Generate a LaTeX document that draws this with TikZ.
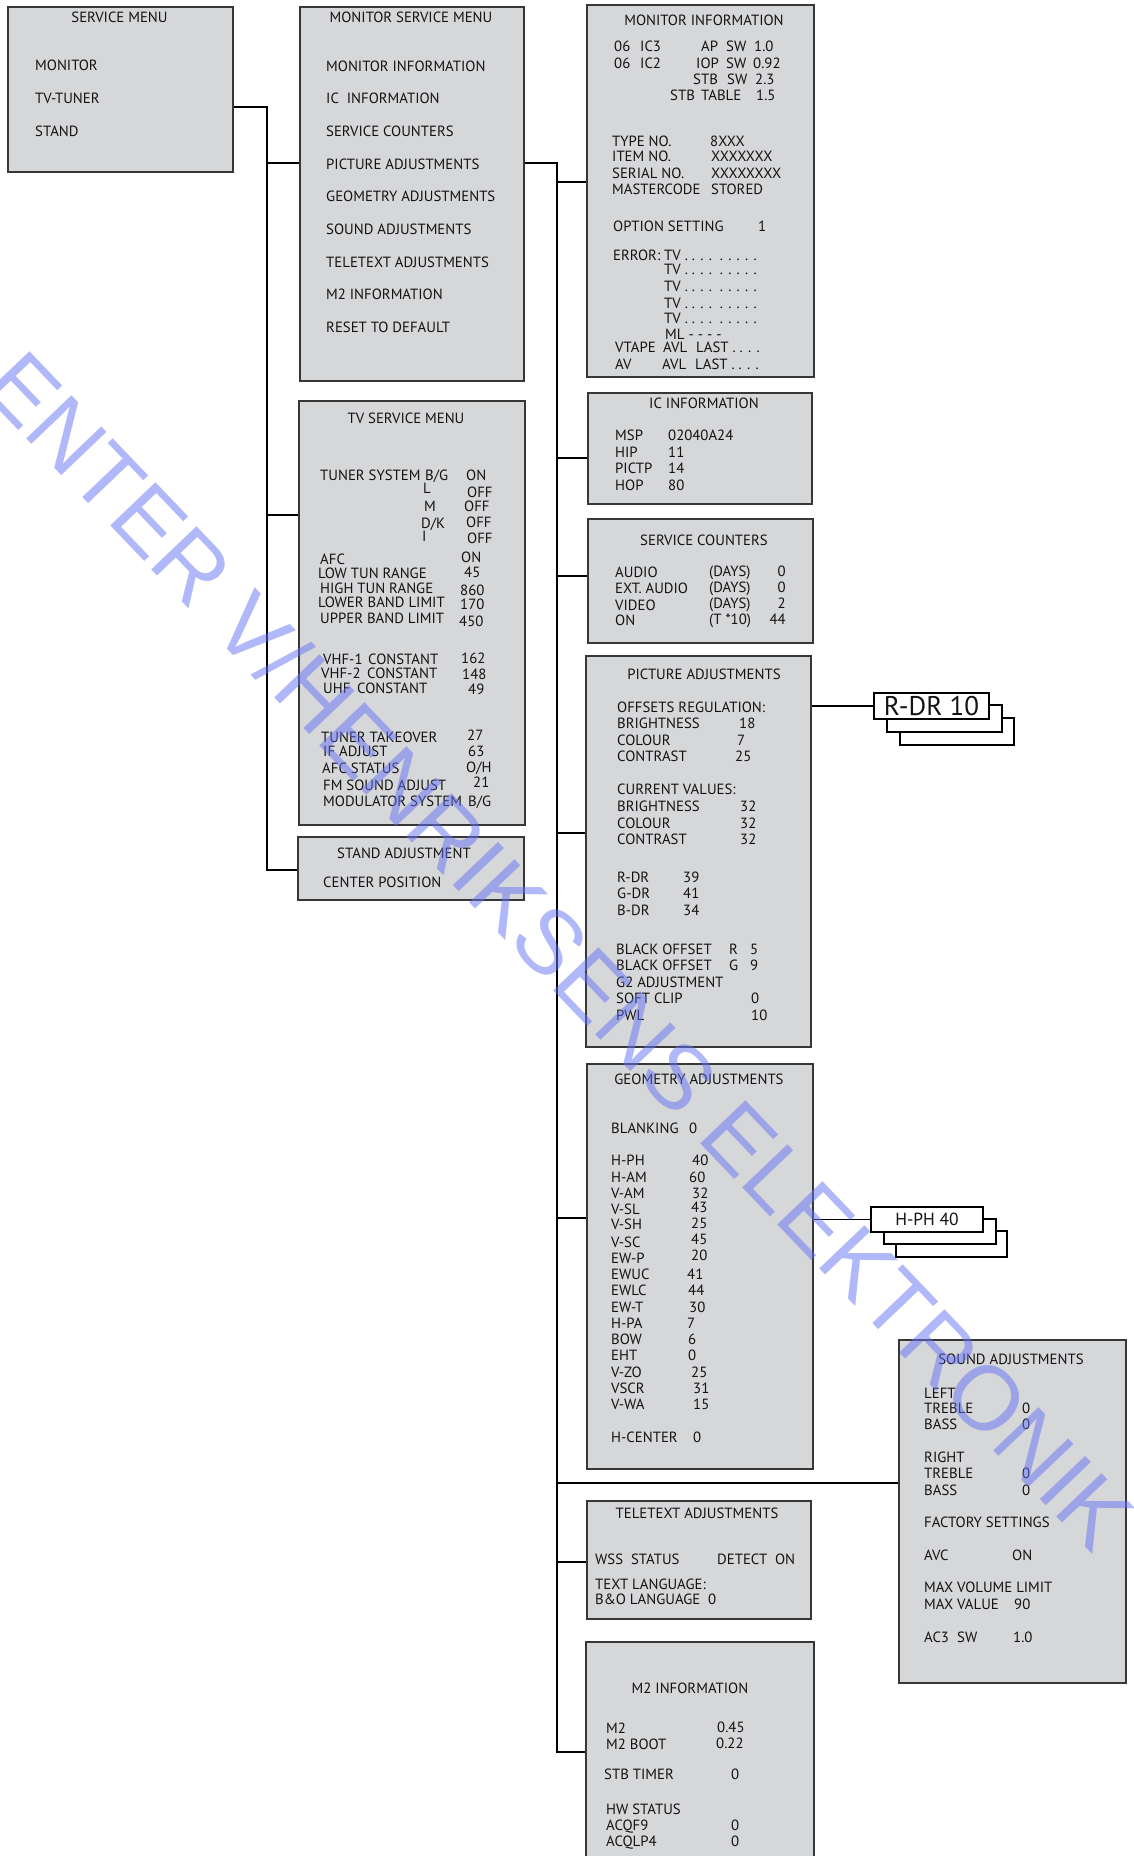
\documentclass[tikz,border=0pt]{standalone}
\usepackage{fontspec}
\setmainfont{PT Sans}
\newfontfamily\wmfont{Liberation Sans}
\usetikzlibrary{fit}
\definecolor{boxfill}{RGB}{214,215,217}
\definecolor{boxline}{RGB}{55,55,55}
\definecolor{txtcol}{RGB}{20,18,18}
\definecolor{wmblue}{RGB}{100,115,245}
\newcounter{tlc}
\newcommand\TL[3]{\stepcounter{tlc}\node[tl] (tl\arabic{tlc}) at (#1,#2+5.2) {#3};}
\newcommand\TC[3]{\stepcounter{tlc}\node[tl,anchor=base] (tl\arabic{tlc}) at (#1,#2+5.2) {#3};}
\newcommand\TR[3]{\stepcounter{tlc}\node[tl,anchor=base east] (tl\arabic{tlc}) at (#1,#2+5.2) {#3};}
\tikzset{
  tl/.style={font=\fontsize{14.8}{17}\selectfont, text=txtcol, inner sep=0pt, anchor=base west},
  menubox/.style={draw=boxline, fill=boxfill, line width=1.2pt, inner sep=0pt},
  stackbox/.style={draw=black, fill=white, line width=2pt, inner sep=0pt},
  conn/.style={draw=black, line width=1.1pt},
  wm/.style={font=\wmfont\fontsize{91}{91}\selectfont, text=wmblue, text opacity=0.5, inner sep=0pt}
}
\begin{document}
\begin{tikzpicture}[x=1pt,y=-1pt]
\useasboundingbox (0,0) rectangle (1134,1856);
\clip (0,0) rectangle (1134,1856);
\fill[white] (0,0) rectangle (1134,1856);

% boxes
\node[menubox, fit={(8,7) (233,172)}] (sm) {};
\node[menubox, fit={(300,7) (524,381)}] (msm) {};
\node[menubox, fit={(299,401) (525,825)}] (tvs) {};
\node[menubox, fit={(298,837) (524,900)}] (stand) {};
\node[menubox, fit={(587,5) (814,377)}] (mi) {};
\node[menubox, fit={(588,393) (812,504)}] (ic) {};
\node[menubox, fit={(588,519) (813,643)}] (sc) {};
\node[menubox, fit={(586,656) (811,1047)}] (pa) {};
\node[menubox, fit={(587,1064) (813,1469)}] (geo) {};
\node[menubox, fit={(899,1340) (1126,1683)}] (snd) {};
\node[menubox, fit={(587,1501) (811,1619)}] (tt) {};
\node[menubox, fit={(586,1642) (814,1880)}] (m2) {};

% stacked value boxes
\node[stackbox, fit={(900,718) (1014,745)}] (rdr3) {};
\node[stackbox, fit={(887,705) (1002,732)}] (rdr2) {};
\node[stackbox, fit={(874,693) (989,719)}] (rdr) {};
\node[font=\fontsize{27}{30}\selectfont, text=txtcol, inner sep=0pt] (rdrt) at (rdr.center) {R-DR 10};
\node[stackbox, fit={(896,1231) (1007,1257)}] (hph3) {};
\node[stackbox, fit={(884,1219) (996,1244)}] (hph2) {};
\node[stackbox, fit={(871,1207) (983,1232)}] (hph) {};
\node[font=\fontsize{17.5}{20}\selectfont, text=txtcol, inner sep=0pt] (hpht) at (hph.center) {H-PH 40};

% connectors
\coordinate (jsm) at (267,107);
\coordinate (jend) at (267,870);
\coordinate (jmsm) at (267,163);
\coordinate (jtv) at (267,515);
\coordinate (m0) at (557,163);
\coordinate (mEnd) at (557,1752);
\coordinate (mMI) at (557,182);
\coordinate (mIC) at (557,458);
\coordinate (mSC) at (557,576);
\coordinate (mPA) at (557,833);
\coordinate (mGEO) at (557,1218);
\coordinate (mSND) at (557,1483);
\coordinate (mTT) at (557,1562);
\draw[conn] (sm.east |- jsm) -- (jsm) -- (jend) -- (stand.west |- jend);
\draw[conn] (jmsm) -- (msm.west |- jmsm);
\draw[conn] (jtv) -- (tvs.west |- jtv);
\draw[conn] (msm.east |- m0) -- (m0) -- (mEnd) -- (m2.west |- mEnd);
\draw[conn] (mMI) -- (mi.west |- mMI);
\draw[conn] (mIC) -- (ic.west |- mIC);
\draw[conn] (mSC) -- (sc.west |- mSC);
\draw[conn] (mPA) -- (pa.west |- mPA);
\draw[conn] (mGEO) -- (geo.west |- mGEO);
\draw[conn] (mSND) -- (snd.west |- mSND);
\draw[conn] (mTT) -- (tt.west |- mTT);
\draw[conn] (pa.east |- rdr.west) -- (rdr.west);
\draw[conn] (geo.east |- hph.west) -- (hph.west);

% SERVICE MENU
\TC{119.5}{17}{SERVICE MENU}
\TL{35}{65}{MONITOR}
\TL{35}{98}{TV-TUNER}
\TL{35}{131}{STAND}

% MONITOR SERVICE MENU
\TC{411}{17}{MONITOR SERVICE MENU}
\TL{326}{66}{MONITOR INFORMATION}
\TL{326}{98}{IC\ \ INFORMATION}
\TL{326}{131}{SERVICE COUNTERS}
\TL{326}{164}{PICTURE ADJUSTMENTS}
\TL{326}{196}{GEOMETRY ADJUSTMENTS}
\TL{326}{229}{SOUND ADJUSTMENTS}
\TL{326}{262}{TELETEXT ADJUSTMENTS}
\TL{326}{294}{M2 INFORMATION}
\TL{326}{327}{RESET TO DEFAULT}

% MONITOR INFORMATION
\TC{704}{20}{MONITOR INFORMATION}
\TL{614}{46}{06}\TL{640}{46}{IC3}\TL{701}{46}{AP}\TL{726}{46}{SW}\TL{754}{46}{1.0}
\TL{614}{63}{06}\TL{640}{63}{IC2}\TL{696}{63}{IOP}\TL{726}{63}{SW}\TL{753}{63}{0.92}
\TL{693}{79}{STB}\TL{727}{79}{SW}\TL{755}{79}{2.3}
\TL{670}{95}{STB}\TL{701}{95}{TABLE}\TL{756}{95}{1.5}
\TL{612}{141}{TYPE NO.}\TL{710}{141}{8XXX}
\TL{612}{156}{ITEM NO.}\TL{711}{156}{XXXXXXX}
\TL{612}{173}{SERIAL NO.}\TL{711}{173}{XXXXXXXX}
\TL{612}{189}{MASTERCODE}\TL{711}{189}{STORED}
\TL{613}{226}{OPTION SETTING}\TL{758}{226}{1}
\TL{613}{255}{ERROR:}\TL{664}{255}{TV . . . .\ \ . . . . .}
\TL{664}{269}{TV . . . .\ \ . . . . .}
\TL{664}{286}{TV . . . .\ \ . . . . .}
\TL{664}{303}{TV . . . .\ \ . . . . .}
\TL{664}{318}{TV . . . .\ \ . . . . .}
\TL{665}{334}{ML - - - -}
\TL{615}{347}{VTAPE}\TL{663}{347}{AVL}\TL{696}{347}{LAST . . . .}
\TL{615}{364}{AV}\TL{662}{364}{AVL}\TL{695}{364}{LAST . . . .}

% IC INFORMATION
\TC{704}{403}{IC INFORMATION}
\TL{615}{435}{MSP}\TL{668}{435}{02040A24}
\TL{615}{452}{HIP}\TL{668}{452}{11}
\TL{615}{468}{PICTP}\TL{668}{468}{14}
\TL{615}{485}{HOP}\TL{668}{485}{80}

% SERVICE COUNTERS
\TC{704}{540}{SERVICE COUNTERS}
\TL{615}{572}{AUDIO}\TL{709}{571}{(DAYS)}\TR{786}{571}{0}
\TL{615}{588}{EXT. AUDIO}\TL{709}{587}{(DAYS)}\TR{786}{587}{0}
\TL{615}{605}{VIDEO}\TL{709}{603}{(DAYS)}\TR{786}{603}{2}
\TL{615}{620}{ON}\TL{709}{619}{(T *10)}\TR{786}{619}{44}

% PICTURE ADJUSTMENTS
\TC{704}{674}{PICTURE ADJUSTMENTS}
\TL{617}{707}{OFFSETS REGULATION:}
\TL{617}{723}{BRIGHTNESS}\TL{739}{723}{18}
\TL{617}{740}{COLOUR}\TL{737}{740}{7}
\TL{617}{756}{CONTRAST}\TL{735}{756}{25}
\TL{617}{789}{CURRENT VALUES:}
\TL{617}{806}{BRIGHTNESS}\TL{740}{806}{32}
\TL{617}{823}{COLOUR}\TL{740}{823}{32}
\TL{617}{839}{CONTRAST}\TL{740}{839}{32}
\TL{617}{877}{R-DR}\TL{683}{877}{39}
\TL{617}{893}{G-DR}\TL{683}{893}{41}
\TL{617}{910}{B-DR}\TL{683}{910}{34}
\TL{616}{949}{BLACK OFFSET}\TL{729}{949}{R}\TL{750}{949}{5}
\TL{616}{965}{BLACK OFFSET}\TL{729}{965}{G}\TL{750}{965}{9}
\TL{616}{982}{G2 ADJUSTMENT}
\TL{616}{998}{SOFT CLIP}\TL{751}{998}{0}
\TL{616}{1015}{PWL}\TL{751}{1015}{10}

% TV SERVICE MENU
\TC{406}{418}{TV SERVICE MENU}
\TL{320}{475}{TUNER SYSTEM}\TL{425}{475}{B/G}\TL{466}{475}{ON}
\TL{423}{488}{L}\TL{467}{492}{OFF}
\TL{424}{506}{M}\TL{464}{506}{OFF}
\TL{421}{523}{D/K}\TL{466}{522}{OFF}
\TL{422}{536}{I}\TL{467}{538}{OFF}
\TL{320}{559}{AFC}\TL{461}{557}{ON}
\TL{318}{573}{LOW TUN RANGE}\TL{464}{572}{45}
\TL{320}{588}{HIGH TUN RANGE}\TL{460}{590}{860}
\TL{318}{602}{LOWER BAND LIMIT}\TL{460}{604}{170}
\TL{320}{618}{UPPER BAND LIMIT}\TL{459}{621}{450}
\TL{323}{659}{VHF-1}\TL{368}{659}{CONSTANT}\TL{461}{658}{162}
\TL{321}{673}{VHF-2}\TL{367}{673}{CONSTANT}\TL{462}{674}{148}
\TL{323}{688}{UHF}\TL{357}{688}{CONSTANT}\TL{468}{689}{49}
\TL{321}{737}{TUNER TAKEOVER}\TL{467}{735}{27}
\TL{323}{751}{IF ADJUST}\TL{468}{751}{63}
\TL{322}{768}{AFC STATUS}\TL{466}{767}{O/H}
\TL{323}{785}{FM SOUND ADJUST}\TL{473}{782}{21}
\TL{323}{801}{MODULATOR SYSTEM}\TL{468}{801}{B/G}

% STAND ADJUSTMENT
\TC{404}{853}{STAND ADJUSTMENT}
\TL{323}{882}{CENTER POSITION}

% GEOMETRY ADJUSTMENTS
\TC{699}{1079}{GEOMETRY ADJUSTMENTS}
\TL{611}{1128}{BLANKING}\TL{689}{1128}{0}
\TL{611}{1160}{H-PH}\TL{692}{1160}{40}
\TL{611}{1177}{H-AM}\TL{689}{1177}{60}
\TL{611}{1193}{V-AM}\TL{692}{1193}{32}
\TL{611}{1209}{V-SL}\TL{691}{1207}{43}
\TL{611}{1224}{V-SH}\TL{691}{1223}{25}
\TL{611}{1242}{V-SC}\TL{691}{1239}{45}
\TL{611}{1258}{EW-P}\TL{691}{1255}{20}
\TL{611}{1274}{EWUC}\TL{687}{1274}{41}
\TL{611}{1290}{EWLC}\TL{688}{1290}{44}
\TL{611}{1307}{EW-T}\TL{689}{1307}{30}
\TL{611}{1323}{H-PA}\TL{687}{1323}{7}
\TL{611}{1339}{BOW}\TL{688}{1339}{6}
\TL{611}{1355}{EHT}\TL{688}{1355}{0}
\TL{611}{1372}{V-ZO}\TL{691}{1372}{25}
\TL{611}{1388}{VSCR}\TL{693}{1388}{31}
\TL{611}{1404}{V-WA}\TL{693}{1404}{15}
\TL{611}{1437}{H-CENTER}\TL{693}{1437}{0}

% SOUND ADJUSTMENTS
\TC{1011}{1359}{SOUND ADJUSTMENTS}
\TL{924}{1393}{LEFT}
\TL{924}{1408}{TREBLE}\TL{1022}{1408}{0}
\TL{924}{1424}{BASS}\TL{1022}{1424}{0}
\TL{924}{1457}{RIGHT}
\TL{924}{1473}{TREBLE}\TL{1022}{1473}{0}
\TL{924}{1490}{BASS}\TL{1022}{1490}{0}
\TL{924}{1522}{FACTORY SETTINGS}
\TL{924}{1555}{AVC}\TL{1012}{1555}{ON}
\TL{924}{1587}{MAX VOLUME LIMIT}
\TL{924}{1604}{MAX VALUE}\TL{1014}{1604}{90}
\TL{924}{1637}{AC3}\TL{957}{1637}{SW}\TL{1013}{1637}{1.0}

% TELETEXT ADJUSTMENTS
\TC{697}{1513}{TELETEXT ADJUSTMENTS}
\TL{595}{1559}{WSS\ \ STATUS}\TL{717}{1559}{DETECT\ \ ON}
\TL{595}{1584}{TEXT LANGUAGE:}
\TL{595}{1599}{B\&O LANGUAGE\ \ 0}

% M2 INFORMATION
\TC{690}{1688}{M2 INFORMATION}
\TL{606}{1728}{M2}\TL{717}{1727}{0.45}
\TL{606}{1744}{M2 BOOT}\TL{716}{1743}{0.22}
\TL{604}{1774}{STB TIMER}\TL{731}{1774}{0}
\TL{606}{1809}{HW STATUS}
\TL{606}{1825}{ACQF9}\TL{731}{1825}{0}
\TL{606}{1841}{ACQLP4}\TL{731}{1841}{0}

% watermark
\node[wm, rotate=-46.3] (wmark) at (560,950) {ENTER V/HENRIKSENS ELEKTRONIK};
\end{tikzpicture}
\end{document}
